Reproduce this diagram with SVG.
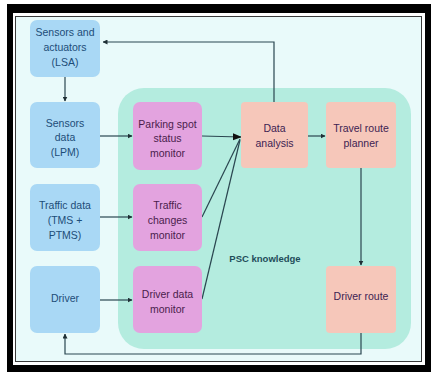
<svg xmlns="http://www.w3.org/2000/svg" width="432" height="373" viewBox="0 0 432 373">
<defs>
<marker id="ah" viewBox="0 0 10 10" refX="9" refY="5" markerWidth="5" markerHeight="5" orient="auto" markerUnits="userSpaceOnUse">
<path d="M0,0 L10,5 L0,10 z" fill="#1f2f35"/>
</marker>
<marker id="ahBig" viewBox="0 0 10 10" refX="9" refY="5" markerWidth="9" markerHeight="9" orient="auto" markerUnits="userSpaceOnUse">
<path d="M0,1 L10,5 L0,9 z" fill="#111"/>
</marker>
</defs>
<style>
.blue{fill:#a9d8f5}
.pink{fill:#e3a3df}
.peach{fill:#f6c7ba}
.t{font-family:"Liberation Sans",Arial,sans-serif;font-size:10.5px;text-anchor:middle}
.tb{fill:#1d4d78}
.tp{fill:#4a1d4c}
.tr{fill:#3d2352}
.c{fill:none;stroke:#2a4650;stroke-width:1.2}
</style>
<rect x="0" y="0" width="432" height="373" fill="#ffffff"/>
<rect x="7" y="4" width="424" height="368" fill="#000"/>
<rect x="13" y="13" width="412" height="352" fill="#ffffff"/>
<rect x="15.5" y="16.5" width="406" height="345" fill="#e9fafa" stroke="#3a3a3a" stroke-width="1"/>
<g id="psc-knowledge">
<rect x="118" y="88" width="293" height="261" rx="26" ry="26" fill="#b4ecdf"/>
<text x="265" y="262" style="font-family:'Liberation Sans',Arial,sans-serif;font-size:9.5px;font-weight:bold;text-anchor:middle" fill="#1f4d5a">PSC knowledge</text>
</g>
<g id="connectors">
<line class="c" x1="65" y1="77" x2="65" y2="101" marker-end="url(#ah)"/>
<line class="c" x1="100" y1="136" x2="132" y2="136" marker-end="url(#ah)"/>
<line class="c" x1="100" y1="217" x2="132" y2="217" marker-end="url(#ah)"/>
<line class="c" x1="100" y1="300" x2="132" y2="300" marker-end="url(#ah)"/>
<line class="c" x1="202" y1="136" x2="241" y2="137" marker-end="url(#ahBig)"/>
<line class="c" x1="202" y1="217" x2="240" y2="139"/>
<line class="c" x1="202" y1="299" x2="240" y2="140"/>
<polyline class="c" points="274,102 274,42 103,42" marker-end="url(#ah)"/>
<line class="c" x1="308" y1="136" x2="325" y2="136" marker-end="url(#ah)"/>
<line class="c" x1="361" y1="168" x2="361" y2="265" marker-end="url(#ah)"/>
<polyline class="c" points="361,333 361,354 65,354 65,334" marker-end="url(#ah)"/>
</g>
<g id="lsa">
<rect class="blue" x="30" y="20" width="70" height="57" rx="7"/>
<text class="t tb" x="65" y="36">Sensors and</text>
<text class="t tb" x="65" y="51">actuators</text>
<text class="t tb" x="65" y="66">(LSA)</text>
</g>
<g id="lpm">
<rect class="blue" x="30" y="102" width="70" height="66" rx="7"/>
<text class="t tb" x="65" y="127">Sensors</text>
<text class="t tb" x="65" y="141">data</text>
<text class="t tb" x="65" y="156">(LPM)</text>
</g>
<g id="traffic-data">
<rect class="blue" x="30" y="184" width="70" height="67" rx="7"/>
<text class="t tb" x="65" y="209">Traffic data</text>
<text class="t tb" x="65" y="224">(TMS +</text>
<text class="t tb" x="65" y="239">PTMS)</text>
</g>
<g id="driver">
<rect class="blue" x="30" y="266" width="70" height="67" rx="7"/>
<text class="t tb" x="65" y="302">Driver</text>
</g>
<g id="parking-monitor">
<rect class="pink" x="133" y="102" width="69" height="68" rx="7"/>
<text class="t tp" x="167.5" y="128">Parking spot</text>
<text class="t tp" x="167.5" y="142">status</text>
<text class="t tp" x="167.5" y="157">monitor</text>
</g>
<g id="traffic-monitor">
<rect class="pink" x="133" y="184" width="69" height="67" rx="7"/>
<text class="t tp" x="167.5" y="209">Traffic</text>
<text class="t tp" x="167.5" y="224">changes</text>
<text class="t tp" x="167.5" y="239">monitor</text>
</g>
<g id="driver-monitor">
<rect class="pink" x="133" y="266" width="69" height="67" rx="7"/>
<text class="t tp" x="167.5" y="298">Driver data</text>
<text class="t tp" x="167.5" y="313">monitor</text>
</g>
<g id="data-analysis">
<rect class="peach" x="241" y="102" width="67" height="66" rx="4"/>
<text class="t tr" x="274.5" y="132">Data</text>
<text class="t tr" x="274.5" y="147">analysis</text>
</g>
<g id="travel-route-planner">
<rect class="peach" x="326" y="102" width="70" height="66" rx="4"/>
<text class="t tr" x="361" y="132">Travel route</text>
<text class="t tr" x="361" y="147">planner</text>
</g>
<g id="driver-route">
<rect class="peach" x="326" y="266" width="70" height="67" rx="4"/>
<text class="t tr" x="361" y="300">Driver route</text>
</g>
</svg>
